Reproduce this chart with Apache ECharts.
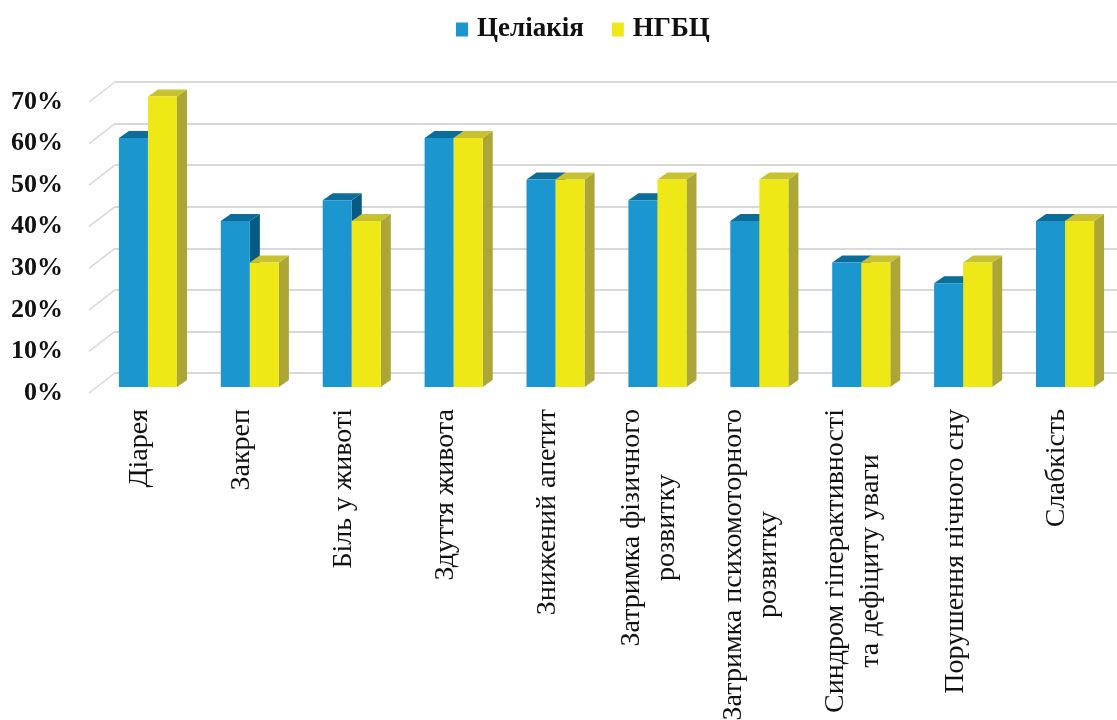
<!DOCTYPE html>
<html>
<head>
<meta charset="utf-8">
<script src="https://cdn.jsdelivr.net/npm/echarts@6/dist/echarts.min.js"></script>
<style>
html,body{margin:0;padding:0;background:#fff;}
#main{width:1117px;height:720px;}
</style>
</head>
<body>
<div id="main"></div>
<script>
const categories = [
  'Діарея',
  'Закреп',
  'Біль у животі',
  'Здуття живота',
  'Знижений апетит',
  'Затримка фізичного\nрозвитку',
  'Затримка психомоторного\nрозвитку',
  'Синдром гіперактивності\nта дефіциту уваги',
  'Порушення нічного сну',
  'Слабкість'
];
const seriesNames = ['Целіакія', 'НГБЦ'];
const celiac = [60, 40, 45, 60, 50, 45, 40, 30, 25, 40];
const ngbc   = [70, 30, 40, 60, 50, 50, 50, 30, 30, 40];
const yTicks = [0, 10, 20, 30, 40, 50, 60, 70];

const serif = '"Liberation Serif", "Times New Roman", serif';
const LABEL_FONT = '28px ' + serif;
const LINE_H = 35;
const LABEL_MARGIN = 16;
const DEPTH_X = 10, DEPTH_Y = 7;

const mctx = document.createElement('canvas').getContext('2d');
mctx.font = LABEL_FONT;
function textW(s) { return mctx.measureText(s).width; }

function bar3D(isLeft, cFront, cTop, cSide) {
  return function (params, api) {
    const i = api.value(0), v = api.value(1);
    const top = api.coord([i, v]);
    const base = api.coord([i, 0]);
    const band = api.size([1, 0])[0];
    const w = band * 0.285;
    const x0 = isLeft ? top[0] - w : top[0];
    const x1 = x0 + w;
    const ty = top[1], by = base[1];
    return {
      type: 'group',
      children: [
        { type: 'polygon', shape: { points: [[x1, ty], [x1 + DEPTH_X, ty - DEPTH_Y], [x1 + DEPTH_X, by - DEPTH_Y], [x1, by]] },
          style: { fill: cSide } },
        { type: 'polygon', shape: { points: [[x0, ty], [x1, ty], [x1 + DEPTH_X, ty - DEPTH_Y], [x0 + DEPTH_X, ty - DEPTH_Y]] },
          style: { fill: cTop } },
        { type: 'rect', shape: { x: x0, y: ty, width: w, height: by - ty },
          style: { fill: cFront } }
      ]
    };
  };
}

const chart = echarts.init(document.getElementById('main'), null, { renderer: 'canvas' });
chart.setOption({
  animation: false,
  backgroundColor: '#ffffff',
  legend: {
    top: 11, left: 451,
    itemWidth: 12, itemHeight: 14, itemGap: 28,
    icon: 'rect',
    textStyle: { fontFamily: serif, fontWeight: 'bold', fontSize: 27, color: '#111', padding: [0, 0, 0, 4] },
    data: [
      { name: seriesNames[0], itemStyle: { color: '#1b96cf' } },
      { name: seriesNames[1], itemStyle: { color: '#eee816' } }
    ]
  },
  grid: [
    { left: 115, right: 0, top: 82, bottom: 347 },
    { left: 97, right: 1, top: 96.5, bottom: 333 },
    { left: 89, right: 9, top: 102, bottom: 327 }
  ],
  xAxis: [
    { gridIndex: 0, type: 'category', data: categories, show: false },
    { gridIndex: 1, type: 'category', data: categories, show: false },
    { gridIndex: 2, type: 'category', data: categories,
      axisLine: { show: false }, axisTick: { show: false }, axisLabel: { show: false } }
  ],
  yAxis: [
    { gridIndex: 0, type: 'value', min: 0, max: 70, interval: 10,
      axisLine: { show: false }, axisTick: { show: false }, axisLabel: { show: false },
      splitLine: { show: true, lineStyle: { color: '#d9d9d9', width: 2 } } },
    { gridIndex: 1, type: 'value', min: 0, max: 70, interval: 10, show: false, splitLine: { show: false } },
    { gridIndex: 2, type: 'value', min: 0, max: 70, interval: 10,
      axisLine: { show: false }, axisTick: { show: false }, splitLine: { show: false },
      axisLabel: { margin: 26, fontFamily: serif, fontWeight: 'bold', fontSize: 26, color: '#111',
        padding: [4, 0, 0, 0], formatter: '{value}%' } }
  ],
  series: [
    {
      name: 'diag', type: 'custom', xAxisIndex: 2, yAxisIndex: 2, silent: true,
      data: yTicks.map(function (v) { return [0, v]; }),
      renderItem: function (params, api) {
        const y = api.coord([0, api.value(1)])[1];
        const x = params.coordSys.x;
        return { type: 'line', shape: { x1: x, y1: y, x2: x + 26, y2: y - 20 },
          style: { stroke: '#d9d9d9', lineWidth: 1.5 } };
      }
    },
    {
      name: 'catLabels', type: 'custom', xAxisIndex: 2, yAxisIndex: 2, silent: true,
      data: categories.map(function (c, i) { return [i, 0]; }),
      renderItem: function (params, api) {
        const i = api.value(0);
        const p = api.coord([i, 0]);
        const lines = categories[i].split('\n');
        const maxW = Math.max.apply(null, lines.map(textW));
        const n = lines.length;
        return {
          type: 'group',
          children: lines.map(function (s, j) {
            return {
              type: 'text',
              x: p[0] + (j - (n - 1) / 2) * LINE_H,
              y: p[1] + LABEL_MARGIN + maxW / 2,
              rotation: Math.PI / 2,
              style: { text: s, x: 0, y: 0, align: 'center', verticalAlign: 'middle',
                font: LABEL_FONT, fill: '#111' }
            };
          })
        };
      }
    },
    {
      name: seriesNames[0], type: 'custom', xAxisIndex: 1, yAxisIndex: 1,
      itemStyle: { color: '#1b96cf' },
      data: celiac.map(function (v, i) { return [i, v]; }),
      renderItem: bar3D(true, '#1b96cf', '#0b6d98', '#075b82')
    },
    {
      name: seriesNames[1], type: 'custom', xAxisIndex: 1, yAxisIndex: 1,
      itemStyle: { color: '#eee816' },
      data: ngbc.map(function (v, i) { return [i, v]; }),
      renderItem: bar3D(false, '#eee816', '#c8c232', '#aba635')
    }
  ]
});
</script>
</body>
</html>
